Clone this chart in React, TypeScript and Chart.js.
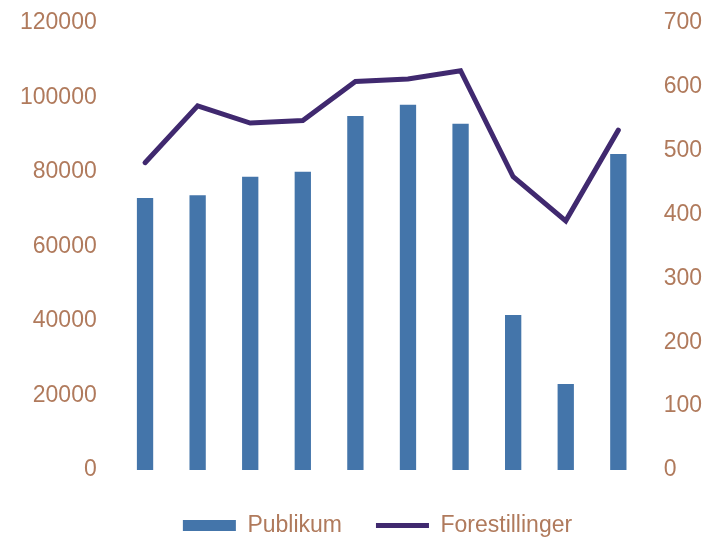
import React, { useEffect, useRef } from "react";
import { Chart, registerables } from "chart.js";

Chart.register(...registerables);

const categories = ["1", "2", "3", "4", "5", "6", "7", "8", "9", "10"];
const publikum = [73000, 73700, 78700, 80000, 95000, 98000, 92900, 41600, 23100, 84800];
const forestillinger = [481, 570, 543, 547, 608, 612, 625, 459, 390, 532];
const leftTicks = [0, 20000, 40000, 60000, 80000, 100000, 120000];
const rightTicks = [0, 100, 200, 300, 400, 500, 600, 700];

const TEXT = "#b07a5c";
const BAR = "#4475aa";
const LINE = "#40296f";
const FONT = { family: "'Liberation Sans', Arial, sans-serif", size: 23 };

const legendShift = {
  id: "legendShift",
  afterLayout(chart: any) {
    const l = chart.legend;
    if (!l) return;
    l.left += 18;
    l.right += 18;
    l.top += 10;
    l.bottom += 10;
  },
};

export default function App() {
  const ref = useRef<HTMLCanvasElement>(null);
  useEffect(() => {
    document.body.style.margin = "0";
    const chart = new Chart(ref.current!, {
      data: {
        labels: categories,
        datasets: [
          {
            type: "line",
            label: "Forestillinger",
            data: forestillinger,
            yAxisID: "y1",
            borderColor: LINE,
            backgroundColor: LINE,
            borderWidth: 5,
            pointRadius: 0,
            pointStyle: "line",
            borderCapStyle: "round",
            borderJoinStyle: "miter",
            tension: 0,
            order: 0,
          },
          {
            type: "bar",
            label: "Publikum",
            data: publikum,
            yAxisID: "y",
            backgroundColor: BAR,
            borderWidth: 0,
            pointStyle: "rect",
            categoryPercentage: 1,
            barPercentage: 0.31,
            order: 1,
          },
        ],
      },
      options: {
        animation: false,
        responsive: false,
        maintainAspectRatio: false,
        layout: { padding: { left: 0, right: -14, top: 0, bottom: 0 } },
        plugins: {
          tooltip: { enabled: false },
          legend: {
            position: "bottom",
            reverse: true,
            labels: {
              usePointStyle: true,
              pointStyleWidth: 53,
              boxHeight: 11,
              color: TEXT,
              font: FONT,
              padding: 34,
            },
          },
        },
        scales: {
          x: {
            ticks: { display: false },
            grid: { display: false, drawTicks: false },
            border: { display: false },
          },
          y: {
            position: "left",
            min: 0,
            max: 120000,
            afterBuildTicks: (s: any) => {
              s.ticks = leftTicks.map((v) => ({ value: v }));
            },
            ticks: { color: TEXT, font: FONT, padding: 22, callback: (v: any) => String(v) },
            grid: { display: false, drawTicks: false },
            border: { display: false },
          },
          y1: {
            position: "right",
            min: 0,
            max: 700,
            afterBuildTicks: (s: any) => {
              s.ticks = rightTicks.map((v) => ({ value: v }));
            },
            ticks: { color: TEXT, font: FONT, padding: 19, callback: (v: any) => String(v) },
            grid: { display: false, drawTicks: false },
            border: { display: false },
          },
        },
      },
      plugins: [legendShift],
    } as any);
    return () => chart.destroy();
  }, []);
  return (
    <div style={{ position: "absolute", left: -2, top: -13, width: 709, height: 550 }}>
      <canvas ref={ref} width={709} height={550} />
    </div>
  );
}
